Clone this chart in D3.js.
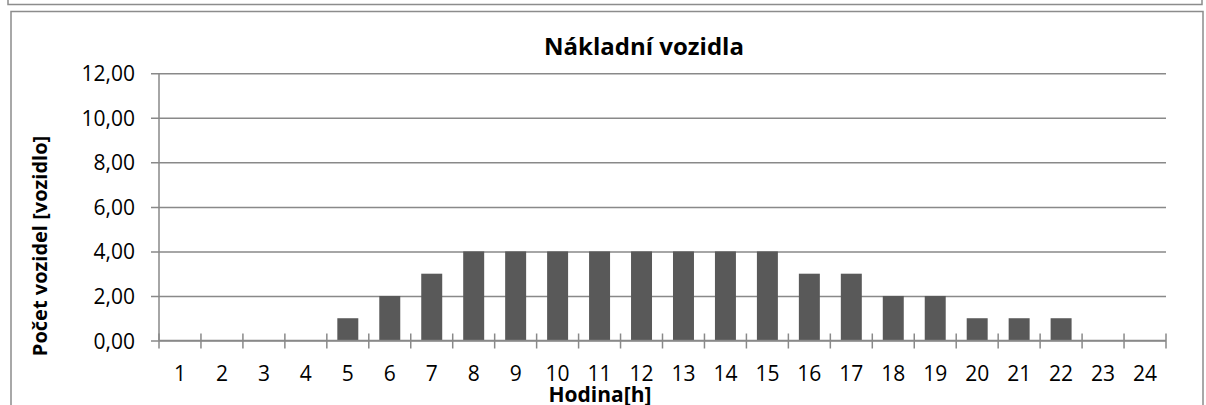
<!DOCTYPE html>
<html>
<head>
<meta charset="utf-8">
<script src="https://cdn.jsdelivr.net/npm/d3@7"></script>
<style>
  body { margin: 0; background: #fff; }
  text { font-family: "Open Sans", Lato, sans-serif; fill: #000; }
</style>
</head>
<body>
<script>
const width = 1206
const height = 405

// data
const hours = ["1","2","3","4","5","6","7","8","9","10","11","12","13","14","15","16","17","18","19","20","21","22","23","24"]
const trucks = [0,0,0,0,1,2,3,4,4,4,4,4,4,4,4,3,3,2,2,1,1,1,0,0]
const yTicks = [0,2,4,6,8,10,12]
const title = "Nákladní vozidla"
const xTitle = "Hodina[h]"
const yTitle = "Počet vozidel [vozidlo]"

const plot = {left: 159, right: 1166, top: 73.3, bottom: 340.5}
const frameColor = "#8c8c8c"
const gridColor = "#898989"

const cz = d3.formatLocale({decimal: ",", thousands: " ", grouping: [3], currency: ["", " Kč"]})
const fmt = cz.format(".2f")

const x = d3.scaleBand()
    .domain(hours)
    .range([plot.left, plot.right])
    .paddingInner(0.5)
    .paddingOuter(0.25)
const y = d3.scaleLinear()
    .domain([0, 12])
    .range([plot.bottom, plot.top])

const svg = d3.select("body").append("svg")
    .attr("width", width)
    .attr("height", height)
    .attr("viewBox", [0, 0, width, height])

// bottom edge of the chart above, and this chart's frame
svg.append("path")
    .attr("d", "M8,0V4.5H1202V0")
    .attr("fill", "none")
    .attr("stroke", frameColor)
    .attr("stroke-width", 1.5)
svg.append("path")
    .attr("d", "M11,410V11.5H1203V410")
    .attr("fill", "none")
    .attr("stroke", frameColor)
    .attr("stroke-width", 1.5)

// gridlines + y axis
const yAxis = g => g
    .attr("transform", `translate(${plot.left},0)`)
    .call(d3.axisLeft(y).tickValues(yTicks).tickFormat(fmt).tickSize(8).tickPadding(16))
    .call(g => g.select(".domain").attr("stroke", gridColor).attr("stroke-width", 1.5)
        .attr("d", `M0,${plot.top}V${plot.bottom}`))
    .call(g => g.selectAll(".tick line").attr("stroke", gridColor).attr("stroke-width", 1.5)
        .attr("x1", plot.right - plot.left))
    .call(g => g.selectAll(".tick text").attr("font-size", 21).attr("dy", "0.36em"))

svg.append("g").call(yAxis)

// bars
svg.append("g")
  .selectAll("rect")
  .data(trucks)
  .join("rect")
    .attr("x", (d, i) => x(hours[i]))
    .attr("y", d => y(d))
    .attr("width", x.bandwidth())
    .attr("height", d => y(0) - y(d))
    .attr("fill", "#595959")

// x axis: line, cross tick marks at category boundaries, labels
const step = x.step()
const bounds = d3.range(hours.length + 1).map(i => plot.left + i * step)
const xAxis = svg.append("g")
xAxis.append("line")
    .attr("x1", plot.left).attr("x2", plot.right)
    .attr("y1", y(0)).attr("y2", y(0))
    .attr("stroke", gridColor).attr("stroke-width", 1.5)
xAxis.selectAll(".xtick")
  .data(bounds)
  .join("line")
    .attr("class", "xtick")
    .attr("x1", d => d).attr("x2", d => d)
    .attr("y1", y(0) - 7).attr("y2", y(0) + 8)
    .attr("stroke", gridColor).attr("stroke-width", 1.5)
xAxis.selectAll(".xlabel")
  .data(hours)
  .join("text")
    .attr("class", "xlabel")
    .attr("x", d => x(d) + x.bandwidth() / 2)
    .attr("y", 381)
    .attr("text-anchor", "middle")
    .attr("font-size", 21)
    .text(d => d)

// titles
svg.append("text")
    .attr("x", 644)
    .attr("y", 55)
    .attr("text-anchor", "middle")
    .attr("font-size", 24)
    .attr("font-weight", "bold")
    .text(title)

svg.append("text")
    .attr("x", 600)
    .attr("y", 402)
    .attr("text-anchor", "middle")
    .attr("font-size", 21)
    .attr("font-weight", "bold")
    .text(xTitle)

svg.append("text")
    .attr("transform", "translate(47,246) rotate(-90)")
    .attr("text-anchor", "middle")
    .attr("font-size", 20)
    .attr("font-weight", "bold")
    .text(yTitle)
</script>
</body>
</html>
